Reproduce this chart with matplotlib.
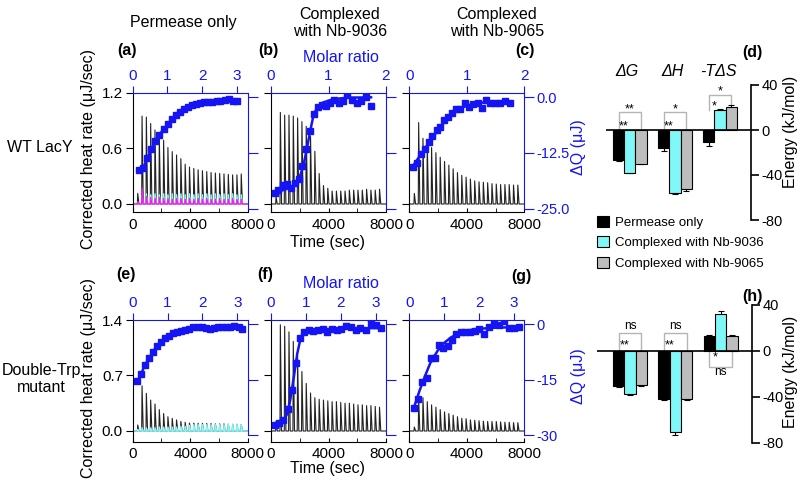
import matplotlib.pyplot as plt
from matplotlib.patches import Patch

plt.rcParams['font.family'] = ['Liberation Sans', 'DejaVu Sans']
plt.rcParams['axes.unicode_minus'] = False

BLUE = '#1414f5'
CYAN = '#80f8f8'
GRAY = '#bdbdbd'
MAGENTA = '#f020f0'

# injection times (sec)
inj_t = [325, 625, 925, 1225, 1525, 1825, 2125, 2425, 2725, 3025, 3325, 3625, 3925,
         4225, 4525, 4825, 5125, 5425, 5725, 6025, 6325, 6625, 6925, 7225, 7525]

# raw heat-rate peak heights (uJ/sec)
peaks_a = [0.115, 0.95, 0.94, 0.87, 0.80, 0.735, 0.69, 0.61, 0.566, 0.53, 0.49, 0.43, 0.40,
           0.385, 0.37, 0.36, 0.35, 0.34, 0.335, 0.33, 0.325, 0.32, 0.315, 0.315, 0.325]
peaks_a_cyan = [0.02, 0.09, 0.11, 0.10, 0.11, 0.10, 0.11, 0.10, 0.11, 0.10, 0.11, 0.10, 0.11,
                0.10, 0.11, 0.10, 0.11, 0.10, 0.11, 0.10, 0.11, 0.10, 0.11, 0.10, 0.10]
peaks_a_mag = [0.02, 0.17, 0.08, 0.07, 0.06, 0.07, 0.06, 0.06, 0.05, 0.06, 0.06, 0.05, 0.06,
               0.05, 0.06, 0.05, 0.06, 0.05, 0.05, 0.06, 0.05, 0.05, 0.06, 0.05, 0.05]
peaks_b = [0.08, 0.99, 0.96, 0.96, 0.95, 0.93, 0.89, 0.84, 0.73, 0.57, 0.33, 0.20, 0.17,
           0.14, 0.14, 0.14, 0.14, 0.15, 0.15, 0.15, 0.15, 0.16, 0.15, 0.15, 0.16]
peaks_c = [0.115, 0.88, 0.71, 0.66, 0.61, 0.555, 0.505, 0.46, 0.42, 0.38, 0.34, 0.31, 0.29,
           0.27, 0.25, 0.24, 0.235, 0.23, 0.22, 0.215, 0.21, 0.21, 0.21, 0.205, 0.205]
peaks_e = [0.076, 0.57, 0.475, 0.39, 0.34, 0.27, 0.22, 0.18, 0.16, 0.14, 0.12, 0.11, 0.10,
           0.10, 0.097, 0.097, 0.095, 0.095, 0.09, 0.09, 0.09, 0.085, 0.085, 0.08, 0.08]
peaks_e_cyan = [0.02, 0.04, 0.04, 0.04, 0.04, 0.05, 0.05, 0.05, 0.05, 0.05, 0.06, 0.06, 0.07,
                0.08, 0.08, 0.08, 0.08, 0.08, 0.08, 0.08, 0.08, 0.09, 0.08, 0.09, 0.08]
peaks_f = [0.12, 1.34, 1.32, 1.25, 1.13, 0.95, 0.75, 0.60, 0.48, 0.42, 0.40, 0.39, 0.38,
           0.37, 0.37, 0.36, 0.35, 0.35, 0.34, 0.33, 0.33, 0.32, 0.32, 0.31, 0.30]
peaks_g = [0.05, 0.41, 0.42, 0.37, 0.33, 0.30, 0.27, 0.24, 0.22, 0.20, 0.18, 0.16, 0.155,
           0.14, 0.135, 0.13, 0.125, 0.12, 0.12, 0.12, 0.115, 0.11, 0.11, 0.105, 0.105]

# integrated heats: molar ratio vs dQ (uJ)
mr_a = [0.18, 0.30, 0.42, 0.54, 0.65, 0.77, 0.89, 1.01, 1.12, 1.24, 1.36, 1.48, 1.59,
        1.71, 1.83, 1.95, 2.06, 2.18, 2.30, 2.42, 2.53, 2.65, 2.77, 2.89, 3.02]
dq_a = [-16.3, -15.9, -13.6, -11.7, -9.9, -8.4, -7.2, -6.1, -5.0, -4.1, -3.3, -2.6, -2.2,
        -1.8, -1.5, -1.3, -1.2, -1.2, -1.2, -1.0, -0.9, -0.7, -0.5, -0.8, -0.8]
mr_b = [0.07, 0.13, 0.20, 0.27, 0.34, 0.41, 0.48, 0.54, 0.61, 0.68, 0.75, 0.82, 0.89,
        0.96, 1.03, 1.09, 1.18, 1.26, 1.33, 1.41, 1.49, 1.57, 1.65, 1.74]
dq_b = [-21.5, -20.8, -19.6, -19.4, -20.4, -19.1, -18.2, -15.4, -11.7, -7.7, -3.8, -2.3, -1.8,
        -2.0, -1.3, -0.7, -1.3, -0.8, 0.4, -0.7, -1.4, -1.0, -0.1, -1.9]
fit_mr_b = [0.07, 0.39, 0.50, 0.56, 0.62, 0.68, 0.74, 0.81, 0.91, 1.08, 1.32, 1.74]
fit_dq_b = [-21.4, -20.0, -17.8, -15.5, -11.8, -7.7, -4.0, -2.2, -1.2, -0.5, -0.15, -0.07]
mr_c = [0.07, 0.14, 0.21, 0.28, 0.34, 0.40, 0.48, 0.54, 0.61, 0.68, 0.75, 0.81, 0.88,
        0.97, 1.04, 1.11, 1.19, 1.26, 1.34, 1.41, 1.49, 1.58, 1.66, 1.75]
dq_c = [-15.7, -14.8, -12.7, -11.5, -10.0, -8.7, -7.4, -6.6, -5.1, -4.5, -3.5, -2.75, -2.75,
        -1.3, -2.2, -1.6, -1.3, -2.5, -0.7, -1.4, -1.3, -1.3, -1.0, -1.4]
fit_mr_c = [0.07, 0.20, 0.35, 0.50, 0.65, 0.80, 0.95, 1.10, 1.30, 1.50, 1.75]
fit_dq_c = [-15.3, -12.8, -10.0, -7.4, -5.0, -3.3, -2.2, -1.6, -1.2, -1.05, -1.0]
mr_e = [0.13, 0.24, 0.35, 0.47, 0.58, 0.70, 0.82, 0.94, 1.05, 1.17, 1.28, 1.39, 1.51, 1.62,
        1.74, 1.86, 1.98, 2.09, 2.22, 2.33, 2.45, 2.56, 2.67, 2.80, 2.91, 3.05, 3.14]
dq_e = [-15.4, -13.5, -11.0, -9.2, -7.4, -5.9, -4.9, -3.8, -3.1, -2.4, -2.2, -1.9, -1.5, -1.2,
        -0.8, -0.7, -0.8, -1.1, -1.3, -0.9, -0.8, -0.7, -0.8, -0.6, -0.45, -0.8, -1.4]
mr_f = [0.11, 0.24, 0.35, 0.48, 0.59, 0.71, 0.83, 0.95, 1.08, 1.21, 1.35, 1.48, 1.61,
        1.74, 1.88, 2.01, 2.14, 2.28, 2.43, 2.56, 2.71, 2.87, 3.00, 3.15]
dq_f = [-27.3, -26.8, -25.9, -23.0, -17.8, -10.4, -3.8, -2.0, -1.5, -1.7, -1.5, -1.4, -2.2,
        -1.4, -1.5, -1.4, -0.5, -0.8, -1.5, -1.1, -1.5, 0.45, -0.2, -1.1]
fit_mr_f = [0.11, 0.35, 0.45, 0.55, 0.65, 0.75, 0.85, 0.95, 1.10, 1.50, 2.00, 2.50, 3.15]
fit_dq_f = [-27.2, -26.3, -24.5, -20.5, -14.5, -8.0, -3.6, -2.2, -1.6, -1.3, -1.2, -1.1, -1.0]
mr_g = [0.13, 0.26, 0.37, 0.50, 0.62, 0.73, 0.86, 0.97, 1.10, 1.22, 1.35, 1.48, 1.60,
        1.73, 1.87, 2.00, 2.14, 2.28, 2.43, 2.57, 2.71, 2.86, 3.00, 3.14]
dq_g = [-22.8, -20.1, -15.6, -14.5, -9.2, -9.2, -5.7, -6.3, -6.0, -4.3, -2.6, -2.1, -2.1,
        -2.0, -1.85, -1.4, -2.6, -0.7, 0.0, -0.3, 0.9, -0.9, -0.9, -0.6]
fit_mr_g = [0.13, 0.30, 0.45, 0.60, 0.80, 1.00, 1.20, 1.40, 1.70, 2.00, 2.50, 3.14]
fit_dq_g = [-22.6, -17.8, -14.0, -10.5, -7.3, -5.0, -3.5, -2.5, -1.6, -1.2, -0.9, -0.75]

# thermodynamic parameters (kJ/mol): dG, dH, -TdS
terms = ['ΔG', 'ΔH', '-TΔS']
groups = ['Permease only', 'Complexed with Nb-9036', 'Complexed with Nb-9065']
wt_vals = [[-27, -16, -11], [-38, -56, 18], [-30, -52.5, 20.5]]
wt_err = [[0.5, 3, 3.5], [0.5, 0.5, 1], [0.5, 1.5, 1.5]]
mut_vals = [[-30.5, -41.7, 13], [-37.4, -70.4, 32], [-29.6, -41.7, 13]]
mut_err = [[0.5, 0.5, 0.5], [0.5, 2.5, 3], [0.5, 0.5, 0.5]]

W, H = 800, 491
fig = plt.figure(figsize=(8, 4.91), dpi=100)


def rect(x0, y0, x1, y1):
    return [x0 / W, 1 - y1 / H, (x1 - x0) / W, (y1 - y0) / H]


def trace(peaks):
    xs, ys = [0], [0]
    for t, h in zip(inj_t, peaks):
        xs += [t, t + 25, t + 110]
        ys += [0, h, 0]
    xs.append(8000)
    ys.append(0)
    return xs, ys


def itc_panel(x0, x1, y0, y1, peaks, controls, mr, dq, fit, hr_lim, hr_ticks, hr_labels,
              dq_lim, dq_ticks, dq_labels, mr_max, mr_ticks, left_lbl, right_lbl):
    ax = fig.add_axes(rect(x0, y0, x1, y1))
    xs, ys = trace(peaks)
    ax.plot(xs, ys, color='#222222', lw=0.8)
    for c, p in controls:
        xs, ys = trace(p)
        ax.plot(xs, ys, color=c, lw=1.0)
    ax.set_xlim(0, 8000)
    ax.set_ylim(*hr_lim)
    ax.spines['top'].set_visible(False)
    ax.spines['right'].set_visible(False)
    ax.set_xticks([0, 4000, 8000])
    ax.set_xticks([2000, 6000], minor=True)
    ax.tick_params(axis='x', which='both', direction='in', length=3, labelsize=11, pad=4)
    ax.set_yticks(hr_ticks)
    ax.set_yticklabels(hr_labels if left_lbl else [])
    ax.tick_params(axis='y', direction='out', length=5, labelsize=11, pad=2)

    ax2 = fig.add_axes(rect(x0, y0, x1, y1))
    ax2.patch.set_visible(False)
    ax2.spines['left'].set_visible(False)
    ax2.spines['bottom'].set_visible(False)
    for s in ('top', 'right'):
        ax2.spines[s].set_color(BLUE)
    ax2.spines['right'].set_bounds(dq_ticks[-1], dq_lim[1])
    ax2.xaxis.tick_top()
    ax2.yaxis.tick_right()
    ax2.set_xlim(0, mr_max)
    ax2.set_ylim(*dq_lim)
    ax2.set_xticks(mr_ticks)
    ax2.set_yticks(dq_ticks)
    ax2.set_yticklabels(dq_labels if right_lbl else [])
    ax2.tick_params(colors=BLUE, labelcolor=BLUE, labelsize=11, direction='out', length=5)
    ax2.tick_params(axis='y', length=7, pad=2, labelsize=10.5)
    ax2.tick_params(axis='x', pad=2)
    if fit is None:
        ax2.plot(mr, dq, '-s', color=BLUE, lw=1.8, ms=4)
    else:
        ax2.plot(fit[0], fit[1], '-', color=BLUE, lw=1.8)
        ax2.plot(mr, dq, 's', color=BLUE, ms=4)
    return ax, ax2


cols = [(132.7, 247.7), (271, 386), (409.3, 524.3)]
row1 = dict(y0=93, y1=212, hr_lim=(-0.0865, 1.2), hr_ticks=[0, 0.6, 1.2],
            hr_labels=['0.0', '0.6', '1.2'], dq_lim=(-25.67, 0.893), dq_ticks=[0, -12.5, -25],
            dq_labels=['0.0', '-12.5', '-25.0'])
row2 = dict(y0=320, y1=441.7, hr_lim=(-0.135, 1.4), hr_ticks=[0, 0.7, 1.4],
            hr_labels=['0.0', '0.7', '1.4'], dq_lim=(-31.8, 1.17), dq_ticks=[0, -15, -30],
            dq_labels=['0', '-15', '-30'])

itc_panel(*cols[0], peaks=peaks_a, controls=[(CYAN, peaks_a_cyan), (MAGENTA, peaks_a_mag)],
          mr=mr_a, dq=dq_a, fit=None, mr_max=3.317, mr_ticks=[0, 1, 2, 3],
          left_lbl=True, right_lbl=False, **row1)
itc_panel(*cols[1], peaks=peaks_b, controls=[], mr=mr_b, dq=dq_b, fit=(fit_mr_b, fit_dq_b),
          mr_max=2.0, mr_ticks=[0, 1, 2], left_lbl=False, right_lbl=False, **row1)
itc_panel(*cols[2], peaks=peaks_c, controls=[], mr=mr_c, dq=dq_c, fit=(fit_mr_c, fit_dq_c),
          mr_max=2.0, mr_ticks=[0, 1, 2], left_lbl=False, right_lbl=True, **row1)
itc_panel(*cols[0], peaks=peaks_e, controls=[(CYAN, peaks_e_cyan)], mr=mr_e, dq=dq_e,
          fit=None, mr_max=3.30, mr_ticks=[0, 1, 2, 3], left_lbl=True, right_lbl=False, **row2)
itc_panel(*cols[1], peaks=peaks_f, controls=[], mr=mr_f, dq=dq_f, fit=(fit_mr_f, fit_dq_f),
          mr_max=3.29, mr_ticks=[0, 1, 2, 3], left_lbl=False, right_lbl=False, **row2)
itc_panel(*cols[2], peaks=peaks_g, controls=[], mr=mr_g, dq=dq_g, fit=(fit_mr_g, fit_dq_g),
          mr_max=3.29, mr_ticks=[0, 1, 2, 3], left_lbl=False, right_lbl=True, **row2)


def bar_panel(x0, x1, y0, y1, xmin, vals, errs, brackets, notes):
    ax = fig.add_axes(rect(x0, y0, x1, y1))
    ax.patch.set_visible(False)
    for s in ('left', 'top', 'bottom'):
        ax.spines[s].set_visible(False)
    ax.yaxis.tick_right()
    ax.set_xticks([])
    ax.set_yticks([40, 0, -40, -80])
    ax.tick_params(axis='y', direction='out', length=6, width=1.2, labelsize=10.5, pad=1.5)
    ax.spines['right'].set_linewidth(1.2)
    ax.set_xlim(xmin, 2.69)
    ax.set_ylim(-80, 40)
    colors = ['black', CYAN, GRAY]
    for k in range(3):
        xs = [g + (k - 1) * 0.25 for g in range(3)]
        ax.errorbar(xs, vals[k], yerr=errs[k], fmt='none', ecolor='black', elinewidth=0.8,
                    capsize=2.5, capthick=0.8, zorder=1)
        ax.bar(xs, vals[k], width=0.25, color=colors[k], edgecolor='black', linewidth=0.8,
               zorder=2)
    ax.axhline(0, color='black', lw=1.2, zorder=3)
    for xa, xb, ya, yb, ytop in brackets:
        ax.plot([xa, xa, xb, xb], [ya, ytop, ytop, yb], color='#b5b5b5', lw=1, zorder=0)
    for x, y, s, fs in notes:
        ax.text(x, y, s, ha='center', va='center', fontsize=fs)
    return ax


bar_panel(606, 751, 85, 220, -0.53, wt_vals, wt_err,
          brackets=[(-0.25, 0.25, 0, 0, 16), (0.75, 1.25, 0, 0, 16), (1.75, 2.25, 18, 23, 31)],
          notes=[(0, 18.5, '**', 9), (-0.13, 3.5, '**', 9), (1, 18.5, '*', 9),
                 (0.87, 3.5, '**', 9), (2, 34.5, '*', 9), (1.87, 21, '*', 9)])
bar_panel(597, 752, 305, 443, -0.73, mut_vals, mut_err,
          brackets=[(-0.25, 0.25, 0, 0, 15.7), (0.75, 1.25, 0, 0, 15.7),
                    (1.75, 2.25, 0, 0, -13.9)],
          notes=[(0, 22, 'ns', 8.5), (-0.13, 4.5, '**', 9), (1, 22, 'ns', 8.5),
                 (0.87, 4.5, '**', 9), (1.87, -5.5, '*', 9), (2, -18.5, 'ns', 8.5)])

# text labels
fs = 11.5
fig.text(183 / W, 1 - 23 / H, 'Permease only', ha='center', va='center', fontsize=fs)
fig.text(340 / W, 1 - 23 / H, 'Complexed\nwith Nb-9036', ha='center', va='center',
         fontsize=fs, linespacing=1.1)
fig.text(497 / W, 1 - 23 / H, 'Complexed\nwith Nb-9065', ha='center', va='center',
         fontsize=fs, linespacing=1.1)
for s, x, y in [('(a)', 127, 51), ('(b)', 268, 51), ('(c)', 525, 51), ('(d)', 752, 53),
                ('(e)', 126, 275), ('(f)', 265, 275), ('(g)', 521, 277), ('(h)', 752, 297)]:
    fig.text(x / W, 1 - y / H, s, ha='center', va='center', fontsize=fs, fontweight='bold')
for y in (57, 283):
    fig.text(341 / W, 1 - y / H, 'Molar ratio', ha='center', va='center', fontsize=fs,
             color=BLUE)
for y in (242, 469):
    fig.text(328 / W, 1 - y / H, 'Time (sec)', ha='center', va='center', fontsize=fs)
for y in (149, 378):
    fig.text(88 / W, 1 - y / H, 'Corrected heat rate (μJ/sec)', ha='center', va='center',
             fontsize=fs, rotation=90)
    fig.text(579 / W, 1 - (y - 2) / H, 'ΔQ (μJ)', ha='center', va='center', fontsize=fs,
             rotation=90, color=BLUE)
fig.text(40 / W, 1 - 147 / H, 'WT LacY', ha='center', va='center', fontsize=fs)
fig.text(41 / W, 1 - 379 / H, 'Double-Trp\nmutant', ha='center', va='center', fontsize=fs,
         linespacing=1.1)
for y in (132, 372):
    fig.text(791 / W, 1 - y / H, 'Energy (kJ/mol)', ha='center', va='center', fontsize=fs,
             rotation=90)
for s, x in zip(terms, [627, 672, 718]):
    fig.text(x / W, 1 - 72 / H, s, ha='center', va='center', fontsize=fs, style='italic')

handles = [Patch(facecolor=c, edgecolor='black', linewidth=0.8) for c in ['black', CYAN, GRAY]]
fig.legend(handles, groups, loc='upper left', bbox_to_anchor=(597 / W, 1 - 216 / H),
           frameon=False, fontsize=9.5, handlelength=0.9, handleheight=0.9,
           handletextpad=0.5, labelspacing=0.55, borderaxespad=0, borderpad=0)

fig.savefig('out.png', dpi=100)
